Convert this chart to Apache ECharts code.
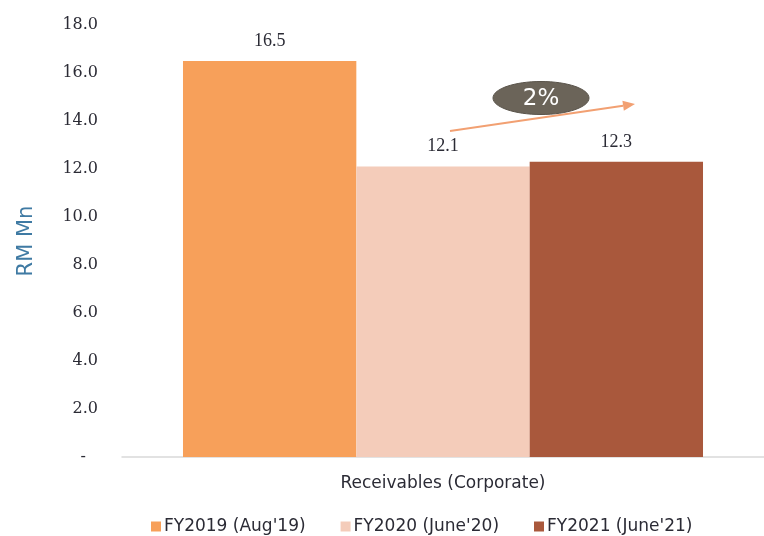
<!DOCTYPE html>
<html>
<head>
<meta charset="utf-8">
<script src="https://cdn.jsdelivr.net/npm/echarts@6/dist/echarts.min.js"></script>
<style>
  html, body { margin: 0; padding: 0; background: #fff; }
  #main { width: 764px; height: 536px; }
</style>
</head>
<body>
<div id="main"></div>
<script>
var categories = ['Receivables (Corporate)'];
var seriesNames = ["FY2019 (Aug'19)", "FY2020 (June'20)", "FY2021 (June'21)"];
var fy2019 = [16.5];
var fy2020 = [12.1];
var fy2021 = [12.3];
var colors = ['#F7A05A', '#F4CCBA', '#A9583C'];
var growthLabel = '2%';

var chartDom = document.getElementById('main');
var myChart = echarts.init(chartDom);
var option;

var labelStyle = {
    show: true,
    position: 'top',
    distance: 11,
    fontFamily: 'Liberation Serif',
    fontSize: 18,
    color: '#2b2b35',
    formatter: function (p) { return p.value.toFixed(1); }
};

function makeSeries(name, data, color) {
    return {
        name: name,
        type: 'bar',
        data: data,
        barGap: '0%',
        barCategoryGap: '19%',
        itemStyle: { color: color },
        label: labelStyle
    };
}

// arrow from 12.1 towards 12.3 with the growth bubble
var ax1 = 450, ay1 = 131, ax2 = 635, ay2 = 104;
var ang = Math.atan2(ay2 - ay1, ax2 - ax1);
var headLen = 12, headW = 5;
var bx = ax2 - headLen * Math.cos(ang), by = ay2 - headLen * Math.sin(ang);
var head = [
    [ax2, ay2],
    [bx + headW * Math.sin(ang), by - headW * Math.cos(ang)],
    [bx - headW * Math.sin(ang), by + headW * Math.cos(ang)]
];

option = {
    animation: false,
    color: colors,
    grid: {
        left: 122,
        right: 0,
        top: 25,
        bottom: 79
    },
    legend: {
        top: 513,
        left: 146,
        itemWidth: 10,
        itemHeight: 10,
        itemGap: 35,
        icon: 'rect',
        textStyle: {
            fontFamily: 'DejaVu Sans',
            fontSize: 17,
            color: '#2b2b35',
            padding: [0, 0, 0, -2]
        },
        data: seriesNames
    },
    xAxis: {
        type: 'category',
        data: categories,
        axisTick: { show: false },
        axisLine: { lineStyle: { color: '#d9d9d9', width: 1.5 } },
        axisLabel: {
            margin: 18,
            fontFamily: 'DejaVu Sans',
            fontSize: 17,
            color: '#2b2b35'
        }
    },
    yAxis: {
        type: 'value',
        min: 0,
        max: 18,
        interval: 2,
        name: 'RM Mn',
        nameLocation: 'middle',
        nameGap: 85,
        nameTextStyle: {
            fontFamily: 'DejaVu Sans',
            fontSize: 21,
            color: '#3f7aa3'
        },
        splitLine: { show: false },
        axisLine: { show: false },
        axisTick: { show: false },
        axisLabel: {
            margin: 24,
            fontFamily: 'DejaVu Serif',
            fontSize: 16,
            color: '#2b2b35',
            formatter: function (v) { return v === 0 ? '{d|-}' : v.toFixed(1); },
            rich: {
                d: { fontFamily: 'DejaVu Serif', fontSize: 16, color: '#2b2b35', padding: [0, 12, 0, 0] }
            }
        }
    },
    graphic: [
        {
            type: 'line',
            shape: { x1: ax1, y1: ay1, x2: bx, y2: by },
            style: { stroke: '#F2A072', lineWidth: 2 }
        },
        {
            type: 'polygon',
            shape: { points: head },
            style: { fill: '#F2A072' }
        },
        {
            type: 'ellipse',
            shape: { cx: 541, cy: 98, rx: 48, ry: 16.5 },
            style: { fill: '#6b6459', stroke: '#5a544b', lineWidth: 1 }
        },
        {
            type: 'text',
            x: 541,
            y: 99,
            style: {
                text: growthLabel,
                fontFamily: 'DejaVu Sans',
                fontSize: 23,
                fill: '#ffffff',
                align: 'center',
                verticalAlign: 'middle'
            }
        }
    ],
    series: [
        makeSeries(seriesNames[0], fy2019, colors[0]),
        makeSeries(seriesNames[1], fy2020, colors[1]),
        makeSeries(seriesNames[2], fy2021, colors[2])
    ]
};

option && myChart.setOption(option);
</script>
</body>
</html>
